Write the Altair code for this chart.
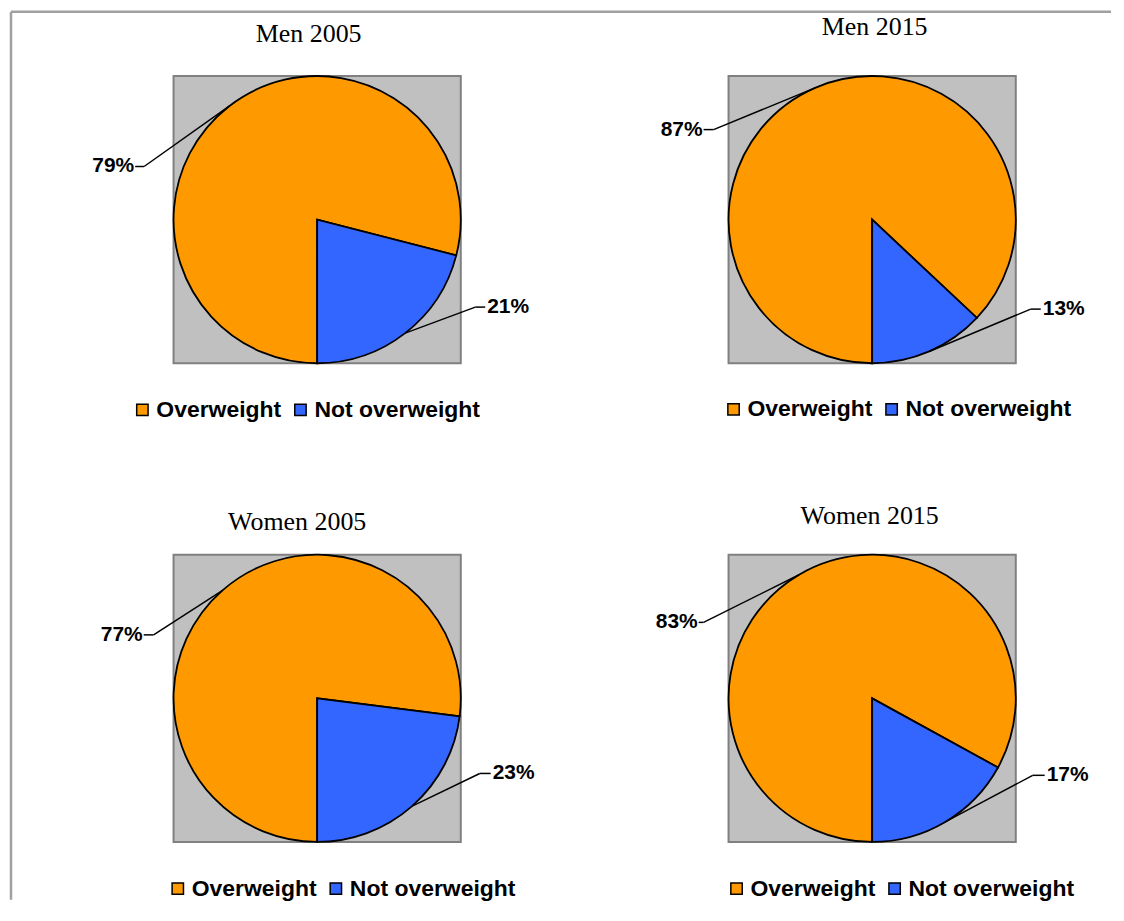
import math
import altair as alt
import pandas as pd

# ---------------- data ----------------
panels = ["Men 2005", "Men 2015", "Women 2005", "Women 2015"]
categories = ["Overweight", "Not overweight"]
overweight = [79, 87, 77, 83]
not_overweight = [21, 13, 23, 17]

# ---------------- styling / layout ----------------
colors = ["#FF9900", "#3366FF"]
SIZE = 288
R = SIZE / 2
LABEL_FONT = "Liberation Sans"
TITLE_FONT = "Liberation Serif"

# leader-line elbow (x, y) and end x, in pie-radius units from the centre
label_layout = {
    "Men 2005":   {"Overweight": (-1.205, 0.370, -1.267), "Not overweight": (1.101, -0.609, 1.170)},
    "Men 2015":   {"Overweight": (-1.104, 0.627, -1.174), "Not overweight": (1.104, -0.623, 1.174)},
    "Women 2005": {"Overweight": (-1.139, 0.442, -1.208), "Not overweight": (1.132, -0.523, 1.208)},
    "Women 2015": {"Overweight": (-1.174, 0.529, -1.208), "Not overweight": (1.118, -0.536, 1.201)},
}
# title offset, dx
title_layout = {
    "Men 2005": (-58, -8.5),
    "Men 2015": (12, 2.5),
    "Women 2005": (-5, -20),
    "Women 2015": (1, -2.5),
}
# legend x, y (relative to the panel)
legend_layout = {
    "Men 2005": (-42.75, 323),
    "Men 2015": (-6.5, 322.5),
    "Women 2005": (-7.25, 323),
    "Women 2015": (-3.5, 323),
}


def make_panel(i):
    name = panels[i]
    rows = []
    for idx, (cat, val) in enumerate(zip(categories, [overweight[i], not_overweight[i]])):
        bx, by, lx = label_layout[name][cat]
        rows.append(dict(panel=name, cat=cat, pct=val, idx=idx, bx=bx, by=by, lx=lx))
    df = pd.DataFrame(rows)
    base = alt.Chart(df)

    xs = alt.Scale(domain=[-1, 1], nice=False, zero=False)
    ys = alt.Scale(domain=[-1, 1], nice=False, zero=False)

    lgx, lgy = legend_layout[name]
    pie = base.mark_arc(outerRadius=R, stroke="black", strokeWidth=1.8).encode(
        theta=alt.Theta("pct:Q", stack=True,
                        scale=alt.Scale(range=[math.pi, 3 * math.pi])),
        color=alt.Color(
            "cat:N",
            scale=alt.Scale(domain=categories, range=colors),
            legend=alt.Legend(
                title=None, orient="none", legendX=lgx, legendY=lgy,
                direction="horizontal", symbolType="square", symbolSize=130,
                symbolStrokeColor="black", symbolStrokeWidth=1.5, symbolOpacity=1,
                labelFont=LABEL_FONT, labelFontSize=23, labelFontWeight="bold",
                labelColor="black", labelOffset=2.5, columnPadding=7.5, padding=0,
                labelLimit=0,
            ),
        ),
        order=alt.Order("idx:Q"),
    )

    leader = (
        base.transform_joinaggregate(total="sum(pct)")
        .transform_window(cum="sum(pct)", sort=[alt.SortField("idx")])
        .transform_calculate(
            ang="PI + 2 * PI * (datum.cum - datum.pct / 2) / datum.total",
            ex="sin(datum.ang)",
            ey="cos(datum.ang)",
        )
        .mark_rule(color="black", strokeWidth=1.5)
        .encode(
            x=alt.X("ex:Q", scale=xs, axis=None),
            y=alt.Y("ey:Q", scale=ys, axis=None),
            x2="bx:Q",
            y2="by:Q",
        )
    )
    tail = base.mark_rule(color="black", strokeWidth=1.5).encode(
        x=alt.X("bx:Q", scale=xs, axis=None),
        x2="lx:Q",
        y=alt.Y("by:Q", scale=ys, axis=None),
    )
    text_props = dict(baseline="middle", font=LABEL_FONT, fontSize=21,
                      fontWeight="bold", color="black")
    lab_left = (
        base.transform_filter(alt.datum.idx == 0)
        .transform_calculate(label="datum.pct + '%'")
        .mark_text(align="right", dx=-1, **text_props)
        .encode(x=alt.X("lx:Q", scale=xs, axis=None),
                y=alt.Y("by:Q", scale=ys, axis=None), text="label:N")
    )
    lab_right = (
        base.transform_filter(alt.datum.idx == 1)
        .transform_calculate(label="datum.pct + '%'")
        .mark_text(align="left", dx=2, **text_props)
        .encode(x=alt.X("lx:Q", scale=xs, axis=None),
                y=alt.Y("by:Q", scale=ys, axis=None), text="label:N")
    )
    layers = [pie, leader, tail, lab_left, lab_right]

    if i == 0:
        frame_v = alt.Chart(alt.Data(values=[{"f": 1}])).mark_rule(
            color="#A0A0A0", strokeWidth=2.5).encode(
            x=alt.value(-163), y=alt.value(-64.5), y2=alt.value(826))
        frame_h = alt.Chart(alt.Data(values=[{"f": 1}])).mark_rule(
            color="#A0A0A0", strokeWidth=2.5).encode(
            x=alt.value(-163), x2=alt.value(940), y=alt.value(-64.5))
        layers += [frame_v, frame_h]

    off, tdx = title_layout[name]
    return alt.layer(*layers).properties(
        width=SIZE,
        height=SIZE,
        title=alt.TitleParams(
            text=name, font=TITLE_FONT, fontSize=26, fontWeight="normal",
            color="black", anchor="middle", frame="group", baseline="alphabetic",
            offset=off, dx=tdx,
        ),
    )


row1 = alt.hconcat(make_panel(0), make_panel(1), spacing=268.5, bounds="flush").resolve_scale(
    color="independent", theta="independent")
row2 = alt.hconcat(make_panel(2), make_panel(3), spacing=268.5, bounds="flush").resolve_scale(
    color="independent", theta="independent")

chart = (
    alt.vconcat(row1, row2, spacing=480, bounds="flush")
    .resolve_scale(color="independent", theta="independent")
    .properties(padding={"left": 0, "top": 0, "right": 2, "bottom": 2}, background="white")
    .configure_view(fill="#C0C0C0", stroke="#808080", strokeWidth=2)
)

chart.save("out.html", embed_options={"renderer": "svg", "actions": False})
